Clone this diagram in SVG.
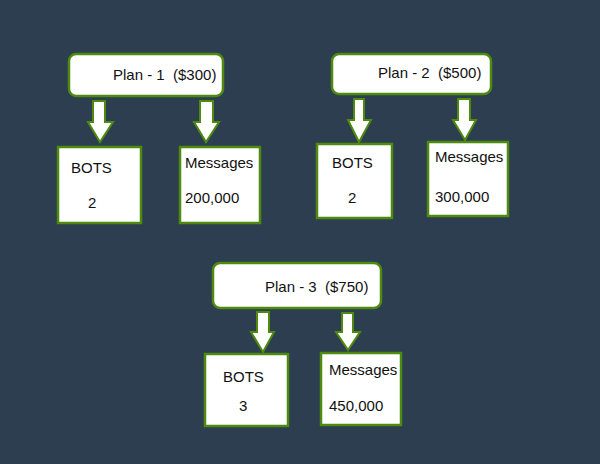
<svg xmlns="http://www.w3.org/2000/svg" width="600" height="464" viewBox="0 0 600 464">
<style>
.bg{fill:#2c3e50}
.plan{fill:#ffffff;stroke:#4e8a0e;stroke-width:2.5}
.box{fill:#ffffff;stroke:#4e8a0e;stroke-width:2.5}
.arr{fill:#ffffff;stroke:#4e8a0e;stroke-width:2;stroke-linejoin:miter}
text{font-family:"Liberation Sans",Arial,sans-serif;font-size:15px;fill:#111111;white-space:pre}
</style>
<rect class="bg" x="0" y="0" width="600" height="464"/>
<g id="connectors">
<polygon class="arr" points="93,101 105,101 105,122 113,122 100,142 88,122 93,122"/>
<polygon class="arr" points="200,101 213,101 213,122 219,122 206,142 194,122 200,122"/>
<polygon class="arr" points="354,99 364,99 364,120 371,120 359,142 348,120 354,120"/>
<polygon class="arr" points="458,99 470,99 470,120 476,120 465,140 453,120 458,120"/>
<polygon class="arr" points="257,312 269,312 269,332 274,332 263,352 251,332 257,332"/>
<polygon class="arr" points="342,313 353,313 353,332 360,332 348,350 336,332 342,332"/>
</g>
<g id="plan1">
<rect class="plan" x="69" y="54" width="154" height="42" rx="7"/>
<text x="113" y="80" xml:space="preserve">Plan - 1  ($300)</text>
</g>
<g id="bots1">
<rect class="box" x="58" y="147" width="83" height="76"/>
<text x="71" y="173">BOTS</text>
<text x="88" y="208">2</text>
</g>
<g id="msg1">
<rect class="box" x="180" y="147" width="80" height="76"/>
<text x="185" y="168">Messages</text>
<text x="185" y="203">200,000</text>
</g>
<g id="plan2">
<rect class="plan" x="332" y="54" width="159" height="40" rx="7"/>
<text x="378" y="78" xml:space="preserve">Plan - 2  ($500)</text>
</g>
<g id="bots2">
<rect class="box" x="317" y="144" width="75" height="74"/>
<text x="332" y="168">BOTS</text>
<text x="348" y="203">2</text>
</g>
<g id="msg2">
<rect class="box" x="428" y="142" width="80" height="74"/>
<text x="435" y="162">Messages</text>
<text x="435" y="202">300,000</text>
</g>
<g id="plan3">
<rect class="plan" x="213" y="263" width="168" height="45" rx="7"/>
<text x="265" y="292" xml:space="preserve">Plan - 3  ($750)</text>
</g>
<g id="bots3">
<rect class="box" x="205" y="354" width="83" height="72"/>
<text x="223" y="382">BOTS</text>
<text x="239" y="411">3</text>
</g>
<g id="msg3">
<rect class="box" x="321" y="353" width="80" height="72"/>
<text x="329" y="375">Messages</text>
<text x="329" y="411">450,000</text>
</g>
</svg>
